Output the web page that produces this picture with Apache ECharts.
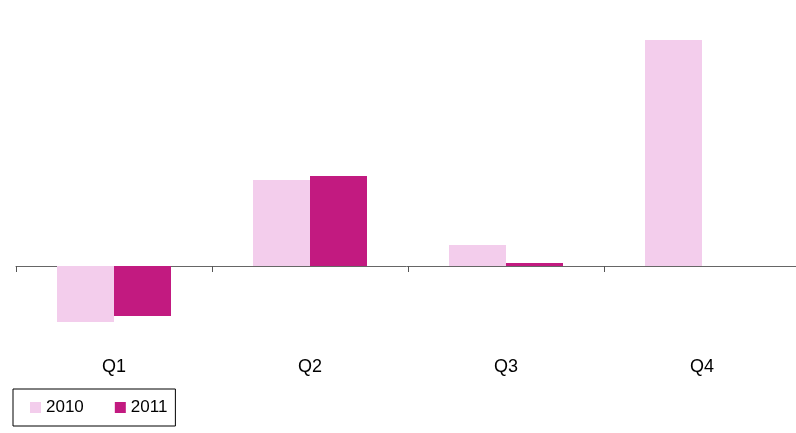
<!DOCTYPE html>
<html>
<head>
<meta charset="utf-8">
<script src="https://cdn.jsdelivr.net/npm/echarts@6/dist/echarts.min.js"></script>
<style>
html,body{margin:0;padding:0;background:#fff;}
#chart{width:796px;height:433px;}
</style>
</head>
<body>
<div id="chart"></div>
<script>
const categories = ['Q1', 'Q2', 'Q3', 'Q4'];
const seriesNames = ['2010', '2011'];
const values2010 = [-56, 86, 21, 226];
const values2011 = [-50, 90, 3, null];

const chart = echarts.init(document.getElementById('chart'), null, {renderer: 'canvas'});
chart.setOption({
  animation: false,
  backgroundColor: '#ffffff',
  textStyle: {fontFamily: 'Liberation Sans, Arial, sans-serif'},
  grid: {left: 16, width: 784, top: 16, height: 334, containLabel: false, outerBoundsMode: 'none'},
  legend: {
    data: seriesNames,
    left: 13, top: 389,
    orient: 'horizontal',
    itemWidth: 11, itemHeight: 11, itemGap: 31,
    icon: 'rect',
    borderColor: '#000', borderWidth: 1, borderRadius: 0,
    padding: [10, 8, 10, 17],
    textStyle: {fontSize: 17, color: '#000', fontFamily: 'Liberation Sans, Arial, sans-serif'}
  },
  xAxis: [
    {
      type: 'category', data: categories, position: 'bottom',
      axisLine: {show: false, onZero: false},
      axisTick: {show: false},
      axisLabel: {fontSize: 18, color: '#000', margin: 8, fontFamily: 'Liberation Sans, Arial, sans-serif'}
    },
    {
      type: 'category', data: categories, position: 'bottom',
      axisLine: {show: true, onZero: true, lineStyle: {color: '#666', width: 1}},
      axisTick: {show: true, length: 6, lineStyle: {color: '#555'}},
      axisLabel: {show: false}
    }
  ],
  yAxis: {
    type: 'value', min: -84, max: 250,
    show: false,
    splitLine: {show: false}
  },
  series: [
    {name: seriesNames[0], type: 'bar', xAxisIndex: 0, data: values2010,
     barWidth: 57, barGap: '0%', itemStyle: {color: '#F3CDEC'}},
    {name: seriesNames[1], type: 'bar', xAxisIndex: 0, data: values2011,
     barWidth: 57, barGap: '0%', itemStyle: {color: '#C21A80'}}
  ]
});
</script>
</body>
</html>
